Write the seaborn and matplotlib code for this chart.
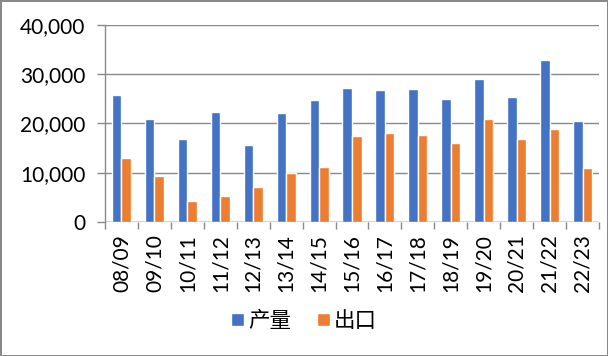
import numpy as np
import pandas as pd
import matplotlib
matplotlib.use('Agg')
import matplotlib.pyplot as plt
import seaborn as sns
from matplotlib.ticker import FuncFormatter

seasons = ['08/09', '09/10', '10/11', '11/12', '12/13', '13/14', '14/15', '15/16',
           '16/17', '17/18', '18/19', '19/20', '20/21', '21/22', '22/23']
production = [25800, 20900, 16850, 22300, 15650, 22150, 24800, 27200,
              26800, 27000, 25000, 29050, 25400, 32900, 20500]
exports = [13000, 9350, 4250, 5300, 7100, 9950, 11200, 17450,
           18050, 17650, 16050, 20900, 16850, 18900, 10950]
series_names = ['产量', '出口']
colors = ['#4472C4', '#ED7D31']

df = pd.DataFrame({
    'season': seasons * 2,
    'value': production + exports,
    'series': [series_names[0]] * len(seasons) + [series_names[1]] * len(seasons),
})

sns.set_style('white')
plt.rcParams['font.family'] = ['Lato', 'Noto Sans CJK SC', 'DejaVu Sans']
plt.rcParams['text.color'] = 'black'
plt.rcParams['xtick.labelcolor'] = 'black'
plt.rcParams['ytick.labelcolor'] = 'black'
grid_col = '#898989'

fig = plt.figure(figsize=(6.08, 3.56), dpi=100)
fig.patch.set_edgecolor(grid_col)
fig.patch.set_linewidth(2)
ax = fig.add_axes([0.1727, 0.3764, 0.8125, 0.5534])

sns.barplot(data=df, x='season', y='value', hue='series', order=seasons,
            hue_order=series_names, palette=colors, width=0.58, saturation=1,
            ax=ax, legend=True)

ax.set_ylim(0, 40000)
ax.set_xlim(-0.5, len(seasons) - 0.5)
ax.set_yticks(np.arange(0, 40001, 10000))
ax.yaxis.set_major_formatter(FuncFormatter(lambda v, p: f'{int(v):,}'))
ax.yaxis.grid(True, color=grid_col, linewidth=1.0)
ax.set_axisbelow(True)

for s in ['top', 'right', 'bottom']:
    ax.spines[s].set_visible(False)
ax.spines['left'].set_color(grid_col)
ax.spines['left'].set_linewidth(1.0)

ax.tick_params(axis='y', length=6, color=grid_col, width=1.0, labelsize=15, pad=8,
               left=True, labelcolor='black')
ax.set_xticks(np.arange(len(seasons)))
ax.set_xticklabels(seasons, rotation=90, fontsize=15, color='black')
ax.set_xticks(np.arange(-0.5, len(seasons)), minor=True)
ax.tick_params(axis='x', which='major', length=0, pad=9, bottom=True)
ax.tick_params(axis='x', which='minor', length=5, color=grid_col, width=1.0, bottom=True)
ax.axhline(0, color=grid_col, linewidth=1.0, zorder=3)

ax.set_xlabel('')
ax.set_ylabel('')

handles, labels = ax.get_legend_handles_labels()
ax.get_legend().remove()
fig.legend(handles, labels, loc='center', bbox_to_anchor=(0.5, 0.098), ncol=2,
           frameon=False, fontsize=15.5, handlelength=0.6, handleheight=0.6,
           handletextpad=0.2, columnspacing=1.2, labelcolor='black')

fig.savefig('out.png', dpi=100)
